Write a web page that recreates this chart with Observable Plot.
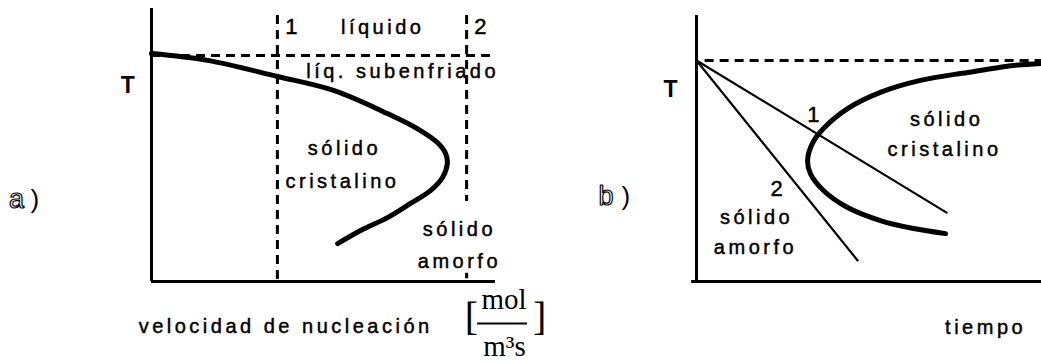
<!DOCTYPE html>
<html>
<head>
<meta charset="utf-8">
<script src="https://cdn.jsdelivr.net/npm/d3@7"></script>
<script src="https://cdn.jsdelivr.net/npm/@observablehq/plot@0.6"></script>
<style>
  body { margin: 0; background: #fff; }
  #chart { position: relative; width: 1041px; height: 363px; background: #fff; }
  #chart svg { position: absolute; left: 0; top: 0; }
</style>
</head>
<body>
<div id="chart"></div>
<script>
// ---- a) nucleation rate vs temperature (both axes in % of full scale) ----
const rateA = [0, 16.3, 36.6, 52.9, 68.6, 78.2, 83.1, 85.5, 86.0, 84.6, 81.1, 75.3, 68.6, 60.8, 54.1];
const tempA = [83.5, 81.0, 75.1, 70.0, 61.5, 55.3, 50.9, 46.9, 43.2, 38.1, 33.3, 28.6, 23.4, 18.7, 13.9];
const meltingTempA = 82.8;
const coolingRateNames = ["1", "2"];
const coolingRates = [36.6, 91.6];
// visible stretches of the two constant-rate lines (T from, T to)
const coolingRateSpans = [[[97.4, 0]], [[97.4, 29.3], [3.0, 1.0]]];

// ---- b) time–temperature–transformation diagram ----
const timeB = [72.2, 62.9, 53.3, 43.8, 36.8, 33.0, 32.2, 33.6, 36.8, 43.8, 53.3, 64.9, 78.6, 91.9, 100];
const tempB = [18.0, 19.9, 22.9, 27.8, 34.2, 40.6, 45.5, 51.9, 57.5, 65.0, 71.1, 75.6, 78.6, 81.2, 82.0];
const meltingTempB = 83.1;
const pathNames = ["1", "2"];
const pathEndTime = [72.5, 46.7];
const pathEndTemp = [25.9, 7.9];

const sans = "'Liberation Sans', Arial, Helvetica, sans-serif";
const serif = "'Liberation Serif', 'Times New Roman', serif";

// shared look of the region labels: slightly heavy, widely tracked sans
const labelStyle = {
  fontSize: 20, fontFamily: sans, lineAnchor: "bottom",
  fill: "black", stroke: "black", strokeWidth: 0.45, paintOrder: "normal"
};
const digitStyle = {...labelStyle, fontSize: 22};

const curveA = rateA.map((x, i) => ({x, y: tempA[i]}));
const rateLines = coolingRates.flatMap((x, i) =>
  coolingRateSpans[i].map(([y1, y2]) => ({name: coolingRateNames[i], x, y1, y2})));

const labelsA = [
  {text: "líquido", x: 67.2, y: 90.8},
  {text: "líq. subenfriado", x: 73.0, y: 74.4},
  {text: "sólido", x: 56.1, y: 46.2},
  {text: "cristalino", x: 55.5, y: 34.4},
  {text: "sólido", x: 89.5, y: 16.8},
  {text: "amorfo", x: 89.5, y: 5.1},
  {text: "velocidad de nucleación", x: 39.0, y: -19.0}
];
const digitsA = [
  {text: "1", x: 41.2, y: 90.8},
  {text: "2", x: 96.1, y: 90.8}
];

const plotA = Plot.plot({
  width: 1041,
  height: 363,
  marginLeft: 151,
  marginRight: 546,
  marginTop: 8,
  marginBottom: 82,
  style: {background: "transparent", overflow: "visible"},
  x: {domain: [0, 100], axis: null},
  y: {domain: [0, 100], axis: null},
  marks: [
    // melting temperature
    Plot.ruleY([meltingTempA], {x1: 0, x2: 100, stroke: "black", strokeWidth: 3, strokeDasharray: "9,6"}),
    // constant nucleation rates 1 and 2
    Plot.ruleX(rateLines, {x: "x", y1: "y1", y2: "y2", stroke: "black", strokeWidth: 3, strokeDasharray: "9,6"}),
    // axes
    Plot.ruleX([0], {y1: 0, y2: 100, stroke: "black", strokeWidth: 3}),
    Plot.ruleY([0], {x1: 0, x2: 100, stroke: "black", strokeWidth: 3}),
    // nucleation rate curve
    Plot.line(curveA, {x: "x", y: "y", curve: "catmull-rom", stroke: "black", strokeWidth: 5, strokeLinecap: "round"}),
    Plot.text(labelsA, {x: "x", y: "y", text: "text", ...labelStyle}),
    Plot.text(digitsA, {x: "x", y: "y", text: "text", ...digitStyle}),
    Plot.text(["T"], {x: -6.4, y: 68.9, fontSize: 23, fontWeight: "bold", fontFamily: sans, lineAnchor: "bottom"}),
    Plot.text(["a"], {x: -38.7, y: 27.1, fontSize: 27, fontFamily: sans, lineAnchor: "bottom", fill: "white", stroke: "black", strokeWidth: 1.2, paintOrder: "normal"}),
    Plot.text([")"], {x: -33.4, y: 27.1, fontSize: 26, fontFamily: sans, lineAnchor: "bottom"}),
    // units [mol / m³s]
    Plot.text(["["], {x: 93.0, y: -17.6, fontSize: 40, fontFamily: serif, lineAnchor: "bottom"}),
    Plot.text(["mol"], {x: 102.5, y: -9.9, fontSize: 29, fontFamily: serif, lineAnchor: "bottom"}),
    Plot.ruleY([-15.4], {x1: 94.8, x2: 109.3, stroke: "black", strokeWidth: 2}),
    Plot.text(["m³s"], {x: 102.6, y: -27.4, fontSize: 29, fontFamily: serif, lineAnchor: "bottom"}),
    Plot.text(["]"], {x: 112.8, y: -17.6, fontSize: 40, fontFamily: serif, lineAnchor: "bottom"})
  ]
});

const curveB = timeB.map((x, i) => ({x, y: tempB[i]}));
const paths = pathNames.flatMap((name, i) => [
  {name, x: 0, y: meltingTempB},
  {name, x: pathEndTime[i], y: pathEndTemp[i]}
]);

const labelsB = [
  {text: "sólido", x: 17.4, y: 21.8},
  {text: "amorfo", x: 17.1, y: 10.5},
  {text: "sólido", x: 72.5, y: 58.6},
  {text: "cristalino", x: 71.9, y: 47.0},
  {text: "tiempo", x: 83.8, y: -19.9}
];
const digitsB = [
  {text: "1", x: 34.4, y: 59.8},
  {text: "2", x: 23.7, y: 32.3}
];

const plotB = Plot.plot({
  width: 1041,
  height: 363,
  marginLeft: 696,
  marginRight: 0,
  marginTop: 15,
  marginBottom: 82,
  style: {background: "transparent", overflow: "visible"},
  x: {domain: [0, 100], axis: null},
  y: {domain: [0, 100], axis: null},
  marks: [
    Plot.ruleY([meltingTempB], {x1: 2.5, x2: 100, stroke: "black", strokeWidth: 3, strokeDasharray: "9,6"}),
    Plot.ruleX([0], {y1: 0, y2: 100, stroke: "black", strokeWidth: 3}),
    Plot.ruleY([0], {x1: -1.4, x2: 100, stroke: "black", strokeWidth: 3}),
    // cooling paths 1 and 2
    Plot.line(paths, {x: "x", y: "y", z: "name", stroke: "black", strokeWidth: 2.2}),
    // start-of-crystallisation curve
    Plot.line(curveB, {x: "x", y: "y", curve: "catmull-rom", stroke: "black", strokeWidth: 5, strokeLinecap: "round"}),
    Plot.text(labelsB, {x: "x", y: "y", text: "text", ...labelStyle}),
    Plot.text(digitsB, {x: "x", y: "y", text: "text", ...digitStyle}),
    Plot.text(["T"], {x: -7.0, y: 69.2, fontSize: 23, fontWeight: "bold", fontFamily: sans, lineAnchor: "bottom"}),
    Plot.text(["b"], {x: -25.7, y: 28.6, fontSize: 27, fontFamily: sans, lineAnchor: "bottom", fill: "white", stroke: "black", strokeWidth: 1.2, paintOrder: "normal"}),
    Plot.text([")"], {x: -20.0, y: 28.6, fontSize: 26, fontFamily: sans, lineAnchor: "bottom"})
  ]
});

const chart = document.getElementById("chart");
chart.append(plotA, plotB);

// wide tracking on the sans-serif labels
for (const svg of [plotA, plotB]) {
  d3.select(svg).selectAll("g[aria-label=text]").each(function () {
    const fam = this.getAttribute("font-family") || "";
    if (!fam.includes("Serif")) d3.select(this).attr("letter-spacing", "3.5px");
  });
}
</script>
</body>
</html>
